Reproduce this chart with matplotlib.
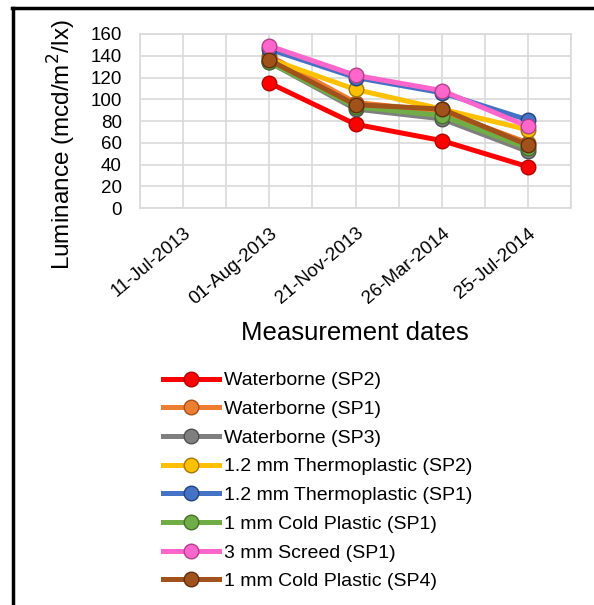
import matplotlib
matplotlib.use("Agg")
import matplotlib.pyplot as plt
from matplotlib.lines import Line2D
import numpy as np

plt.rcParams['font.family'] = ['Liberation Sans', 'DejaVu Sans']

dates = ['11-Jul-2013', '01-Aug-2013', '21-Nov-2013', '26-Mar-2014', '25-Jul-2014']
nan = np.nan
waterborne_sp2 = [nan, 115, 77, 62, 38]
waterborne_sp1 = [nan, 140, 97, 89, 60]
waterborne_sp3 = [nan, 134, 91, 82, 52]
thermo_sp2 = [nan, 137, 109, 91, 72]
thermo_sp1 = [nan, 146, 120, 106, 81]
cold_sp1 = [nan, 134, 93, 85, 55]
screed_sp1 = [nan, 149, 122, 108, 75]
cold_sp4 = [nan, 136, 95, 91, 58]

series = [
    ('Waterborne (SP2)', waterborne_sp2, '#FF0000', '#B00000'),
    ('Waterborne (SP1)', waterborne_sp1, '#ED7D31', '#A8501A'),
    ('Waterborne (SP3)', waterborne_sp3, '#7F7F7F', '#505050'),
    ('1.2 mm Thermoplastic (SP2)', thermo_sp2, '#FFC000', '#A07800'),
    ('1.2 mm Thermoplastic (SP1)', thermo_sp1, '#4472C4', '#24447E'),
    ('1 mm Cold Plastic (SP1)', cold_sp1, '#70AD47', '#44702A'),
    ('3 mm Screed (SP1)', screed_sp1, '#FF66CC', '#B0408A'),
    ('1 mm Cold Plastic (SP4)', cold_sp4, '#A0521A', '#5E2E0C'),
]

fig = plt.figure(figsize=(5.94, 6.05), dpi=100)
W, H = 594, 605
ax = fig.add_axes([140 / W, 1 - 208 / H, 431 / W, 174 / H])

x = np.arange(len(dates))
for label, vals, col, edge in series:
    ax.plot(x, vals, color=col, lw=3.6, marker='o', markersize=10.5,
            markerfacecolor=col, markeredgecolor=edge, markeredgewidth=1.0,
            label=label)

ax.set_xlim(-0.5, len(dates) - 0.5)
ax.set_ylim(0, 160)
ax.set_yticks(range(0, 161, 20))
ax.set_xticks(x)
ax.set_xticks(np.arange(-0.5, len(dates), 1.0), minor=True)
ax.set_xticklabels(dates, rotation=40, ha='right', rotation_mode='anchor',
                   fontsize=13.5)
ax.tick_params(axis='y', labelsize=13.5, length=0, pad=13)
ax.tick_params(axis='x', which='both', length=0, pad=12)
ax.grid(True, which='both', color='#D9D9D9', lw=1.2)
ax.set_axisbelow(True)
for s in ax.spines.values():
    s.set_color('#D9D9D9')
    s.set_linewidth(1.2)

fig.text(62 / W, 1 - 145 / H, 'Luminance (mcd/m$^2$/lx)', rotation=90,
         ha='center', va='center', fontsize=17.5)
fig.text(355 / W, 1 - 333 / H, 'Measurement dates', ha='center',
         va='center', fontsize=18.5)

ax.legend(loc='upper left', bbox_to_anchor=(155 / W, 1 - 364 / H),
          bbox_transform=fig.transFigure, frameon=False, fontsize=14,
          handlelength=2.9, handletextpad=0.26, labelspacing=0.57,
          borderaxespad=0)

# black frame edges (top and left)
fig.add_artist(Line2D([12 / W, 1], [1 - 8 / H, 1 - 8 / H], color='black',
                      lw=2.5, transform=fig.transFigure))
fig.add_artist(Line2D([13 / W, 13 / W], [0, 1 - 8 / H], color='black',
                      lw=2.5, transform=fig.transFigure))

fig.savefig('out.png', dpi=100)
